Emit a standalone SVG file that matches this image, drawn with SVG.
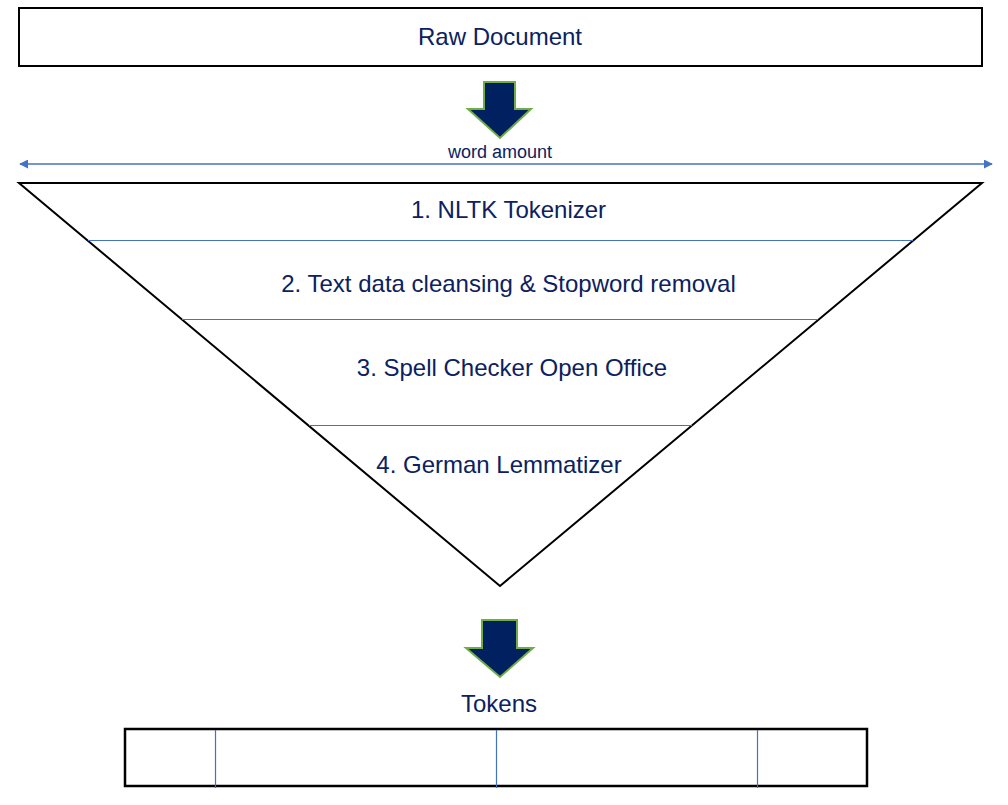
<svg xmlns="http://www.w3.org/2000/svg" width="1008" height="805" viewBox="0 0 1008 805">
<style>
text{font-family:"Liberation Sans",Arial,sans-serif;fill:#0B2160;text-anchor:middle}
.lbl{font-size:24px}
.box{fill:#fff;stroke:#000;stroke-width:2}
.div{stroke:#4472C4;stroke-width:1.2}
.arr{fill:#002060;stroke:#70AD47;stroke-width:2}
</style>
<defs>
<marker id="ah" viewBox="0 0 10 10" refX="9" refY="5" markerWidth="9" markerHeight="9" markerUnits="userSpaceOnUse" orient="auto-start-reverse">
<path d="M0,0 L10,5 L0,10 Z" fill="#4472C4"/>
</marker>
</defs>
<rect width="1008" height="805" fill="#fff"/>
<g id="raw-document">
<rect class="box" x="19" y="8" width="963" height="58"/>
<text class="lbl" x="500" y="45">Raw Document</text>
</g>
<g id="arrow-down-1">
<path class="arr" d="M484,82 H515 V109 H531 L500,138 L468,109 H484 Z"/>
</g>
<g id="word-amount">
<text x="500" y="158" style="font-size:18px">word amount</text>
</g>
<g id="funnel">
<path d="M19,183 H982 L500,586 Z" fill="#fff" stroke="#000" stroke-width="2" stroke-linejoin="miter"/>
</g>
<g id="connectors">
<line x1="20" y1="164" x2="992" y2="164" stroke="#4472C4" stroke-width="1.5" marker-start="url(#ah)" marker-end="url(#ah)"/>
<line class="div" x1="88" y1="240.5" x2="913" y2="240.5"/>
<line class="div" x1="182" y1="319.5" x2="818" y2="319.5"/>
<line class="div" x1="309" y1="425.5" x2="692" y2="425.5"/>
</g>
<g id="step1"><text class="lbl" x="508.5" y="218">1. NLTK Tokenizer</text></g>
<g id="step2"><text class="lbl" x="508.5" y="292">2. Text data cleansing &amp; Stopword removal</text></g>
<g id="step3"><text class="lbl" x="512" y="376">3. Spell Checker Open Office</text></g>
<g id="step4"><text class="lbl" x="499" y="473">4. German Lemmatizer</text></g>
<g id="arrow-down-2">
<path class="arr" d="M482,620 H517 V648 H533 L500,677 L466,648 H482 Z"/>
</g>
<g id="tokens">
<text class="lbl" x="499" y="712">Tokens</text>
<rect x="125" y="729" width="742" height="57" fill="#fff" stroke="#000" stroke-width="2.5"/>
<line class="div" x1="215.5" y1="730" x2="215.5" y2="788"/>
<line class="div" x1="496.5" y1="730" x2="496.5" y2="788"/>
<line class="div" x1="757.5" y1="730" x2="757.5" y2="788"/>
</g>
</svg>
